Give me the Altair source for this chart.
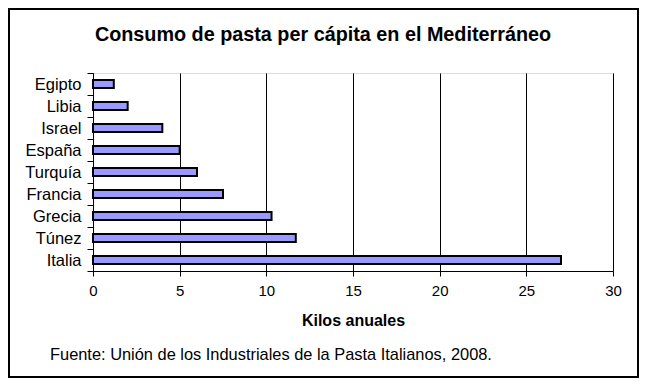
import altair as alt
import pandas as pd

countries = ["Egipto", "Libia", "Israel", "España", "Turquía", "Francia", "Grecia", "Túnez", "Italia"]
kilos = [1.2, 2.0, 4.0, 5.0, 6.0, 7.5, 10.3, 11.7, 27.0]
x_ticks = [0, 5, 10, 15, 20, 25, 30]
title_text = "Consumo de pasta per cápita en el Mediterráneo"
x_title = "Kilos anuales"
source_text = "Fuente: Unión de los Industriales de la Pasta Italianos, 2008."

df = pd.DataFrame({"pais": countries, "kilos": kilos})

FONT = "Liberation Sans"

bars = alt.Chart(df).mark_bar(
    size=8, fill="#9999FF", stroke="black", strokeWidth=2
).encode(
    x=alt.X("kilos:Q",
            scale=alt.Scale(domain=[0, 30], nice=False),
            axis=alt.Axis(values=x_ticks, title=x_title, grid=True, gridColor="black",
                          gridWidth=1, domainColor="black", tickColor="black",
                          tickSize=5, labelFontSize=15, labelPadding=7,
                          labelFlush=False,
                          labelColor="black", labelFont=FONT,
                          titleFont=FONT, titleFontSize=16, titleFontWeight="bold",
                          titleColor="black", titlePadding=14)),
    y=alt.Y("pais:N", sort=countries,
            scale=alt.Scale(paddingInner=0, paddingOuter=0),
            axis=alt.Axis(title=None, tickBand="extent", domainColor="black",
                          tickColor="black", tickSize=6, labelFontSize=16.5,
                          labelColor="black", labelFont=FONT, labelPadding=6,
                          grid=False)),
)

ttl = alt.Chart(pd.DataFrame({"t": [title_text]})).mark_text(
    align="center", baseline="alphabetic", font=FONT, fontSize=19.8,
    fontWeight="bold", color="black"
).encode(
    x=alt.value(230), y=alt.value(-32), text="t:N"
)

src = alt.Chart(pd.DataFrame({"t": [source_text]})).mark_text(
    align="left", baseline="alphabetic", font=FONT, fontSize=16.4, color="black"
).encode(
    x=alt.value(-43), y=alt.value(287), text="t:N"
)

frame = alt.Chart(pd.DataFrame({"a": [0]})).mark_rect(
    fill=None, stroke="black", strokeWidth=2, clip=False
).encode(
    x=alt.value(-84), x2=alt.value(545), y=alt.value(-64), y2=alt.value(304)
)

chart = alt.layer(bars, ttl, src, frame).properties(
    width=520, height=198,
    autosize=alt.AutoSizeParams(type="none"),
    padding={"left": 85, "top": 65, "right": 26, "bottom": 107},
).configure_view(
    fill="#C0C0C0", stroke="#808080", strokeWidth=2
).configure(background="white")

chart.save("out.html", embed_options={"renderer": "svg", "actions": False})
